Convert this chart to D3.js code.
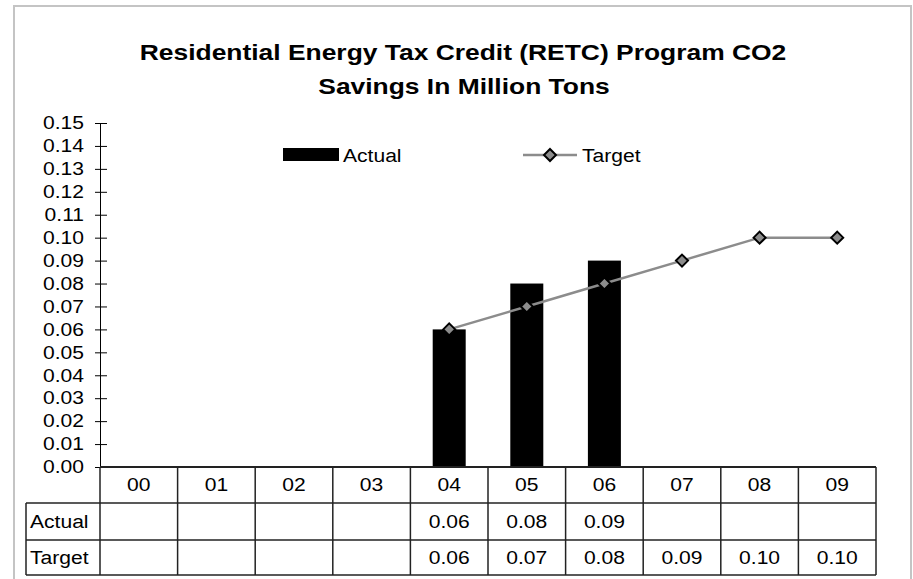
<!DOCTYPE html>
<html>
<head>
<meta charset="utf-8">
<script src="https://cdn.jsdelivr.net/npm/d3@7"></script>
<style>
  body { margin: 0; background: #fff; }
  text { font-family: "Liberation Sans", Arial, sans-serif; }
</style>
</head>
<body>
<div id="chart"></div>
<script>
var years = ["00", "01", "02", "03", "04", "05", "06", "07", "08", "09"]
var actual = [null, null, null, null, 0.06, 0.08, 0.09, null, null, null]
var target = [null, null, null, null, 0.06, 0.07, 0.08, 0.09, 0.10, 0.10]
var yTicks = d3.range(0, 16).map(function (i) { return i / 100 })

var width = 913, height = 579
var plot = { left: 100, right: 876, top: 123, bottom: 467 }
var rowH = [36, 37, 35]

// the reference text is a bit wider than Arial, stretch glyphs horizontally
function stretch(sel, k) {
    sel.each(function () {
        var L = this.getComputedTextLength()
        this.setAttribute("textLength", L * k)
        this.setAttribute("lengthAdjust", "spacingAndGlyphs")
    })
}

var svg = d3.select("#chart").append("svg")
    .attr("width", width)
    .attr("height", height)

// outer frame
svg.append("rect")
    .attr("x", 14).attr("y", 6)
    .attr("width", 897).attr("height", 590)
    .attr("fill", "none")
    .attr("stroke", "#c4c4c4")
    .attr("stroke-width", 2)

// title
var title = svg.append("text")
    .attr("text-anchor", "middle")
    .attr("font-size", "22px")
    .attr("font-weight", "bold")
title.append("tspan").attr("x", 463).attr("y", 60).text("Residential Energy Tax Credit (RETC) Program CO2")
title.append("tspan").attr("x", 464).attr("y", 94).text("Savings In Million Tons")
stretch(title.selectAll("tspan"), 1.2)

var x = d3.scaleBand().domain(years).range([plot.left, plot.right]).padding(0)
var y = d3.scaleLinear().domain([0, 0.15]).range([plot.bottom, plot.top])

// y axis with crossing ticks
var yAxis = svg.append("g")
    .attr("transform", "translate(" + plot.left + ",0)")
    .call(d3.axisLeft(y).tickValues(yTicks).tickFormat(d3.format(".2f"))
        .tickSizeInner(5).tickSizeOuter(0).tickPadding(11))
yAxis.select(".domain").attr("stroke", "#000")
yAxis.selectAll(".tick line").attr("x1", -5).attr("x2", 7).attr("stroke", "#000")
yAxis.selectAll(".tick text")
    .attr("font-family", "Liberation Sans, Arial, sans-serif")
    .attr("font-size", "18px")
    .attr("fill", "#000")
stretch(yAxis.selectAll(".tick text"), 1.17)

// bars
var barW = 33
svg.selectAll(".bar")
    .data(years.map(function (d, i) { return { year: d, v: actual[i] } }).filter(function (d) { return d.v != null }))
    .enter()
    .append("rect")
    .attr("class", "bar")
    .attr("x", function (d) { return x(d.year) + x.bandwidth() / 2 - barW / 2 })
    .attr("y", function (d) { return y(d.v) })
    .attr("width", barW)
    .attr("height", function (d) { return y(0) - y(d.v) })
    .attr("fill", "#000")

// target line
var tData = years.map(function (d, i) { return { year: d, v: target[i] } }).filter(function (d) { return d.v != null })
var line = d3.line()
    .x(function (d) { return x(d.year) + x.bandwidth() / 2 })
    .y(function (d) { return y(d.v) })
svg.append("path")
    .datum(tData)
    .attr("d", line)
    .attr("fill", "none")
    .attr("stroke", "#8c8c8c")
    .attr("stroke-width", 2.5)

var diamond = "M0,-6L6,0L0,6L-6,0Z"
svg.selectAll(".marker")
    .data(tData)
    .enter()
    .append("path")
    .attr("class", "marker")
    .attr("d", diamond)
    .attr("transform", function (d) { return "translate(" + (x(d.year) + x.bandwidth() / 2) + "," + y(d.v) + ")" })
    .attr("fill", "#8c8c8c")
    .attr("stroke", "#000")
    .attr("stroke-width", 2)

// legend
svg.append("rect").attr("x", 283).attr("y", 148).attr("width", 56).attr("height", 13).attr("fill", "#000")
var lg1 = svg.append("text").attr("x", 343).attr("y", 162).attr("font-size", "18px").text("Actual")
svg.append("line").attr("x1", 523).attr("x2", 577).attr("y1", 155).attr("y2", 155)
    .attr("stroke", "#8c8c8c").attr("stroke-width", 2.5)
svg.append("path").attr("d", diamond).attr("transform", "translate(550,155)")
    .attr("fill", "#8c8c8c").attr("stroke", "#000").attr("stroke-width", 2)
var lg2 = svg.append("text").attr("x", 582).attr("y", 162).attr("font-size", "18px").text("Target")
stretch(lg1, 1.17)
stretch(lg2, 1.17)

// data table
var tableLeft = 26
var r0 = plot.bottom, r1 = r0 + rowH[0], r2 = r1 + rowH[1], r3 = r2 + rowH[2]
var grid = svg.append("g").attr("stroke", "#222").attr("stroke-width", 1.5)
grid.append("line").attr("x1", plot.left).attr("x2", plot.right).attr("y1", r0).attr("y2", r0).attr("stroke-width", 2)
;[r1, r2, r3].forEach(function (r) {
    grid.append("line").attr("x1", tableLeft).attr("x2", plot.right).attr("y1", r).attr("y2", r)
})
grid.append("line").attr("x1", tableLeft).attr("x2", tableLeft).attr("y1", r1).attr("y2", r3)
years.forEach(function (d) {
    grid.append("line").attr("x1", x(d)).attr("x2", x(d)).attr("y1", r0).attr("y2", r3)
})
grid.append("line").attr("x1", plot.right).attr("x2", plot.right).attr("y1", r0).attr("y2", r3)

var cells = svg.append("g").attr("font-size", "18px").attr("text-anchor", "middle")
years.forEach(function (d, i) {
    var cx = x(d) + x.bandwidth() / 2
    cells.append("text").attr("x", cx).attr("y", (r0 + r1) / 2).attr("dy", "0.35em").text(d)
    if (actual[i] != null) cells.append("text").attr("x", cx).attr("y", (r1 + r2) / 2).attr("dy", "0.35em").text(actual[i].toFixed(2))
    if (target[i] != null) cells.append("text").attr("x", cx).attr("y", (r2 + r3) / 2).attr("dy", "0.35em").text(target[i].toFixed(2))
})
stretch(cells.selectAll("text"), 1.17)
var rh1 = svg.append("text").attr("x", 30).attr("y", (r1 + r2) / 2).attr("dy", "0.35em").attr("font-size", "18px").text("Actual")
var rh2 = svg.append("text").attr("x", 30).attr("y", (r2 + r3) / 2).attr("dy", "0.35em").attr("font-size", "18px").text("Target")
stretch(rh1, 1.17)
stretch(rh2, 1.17)
</script>
</body>
</html>
